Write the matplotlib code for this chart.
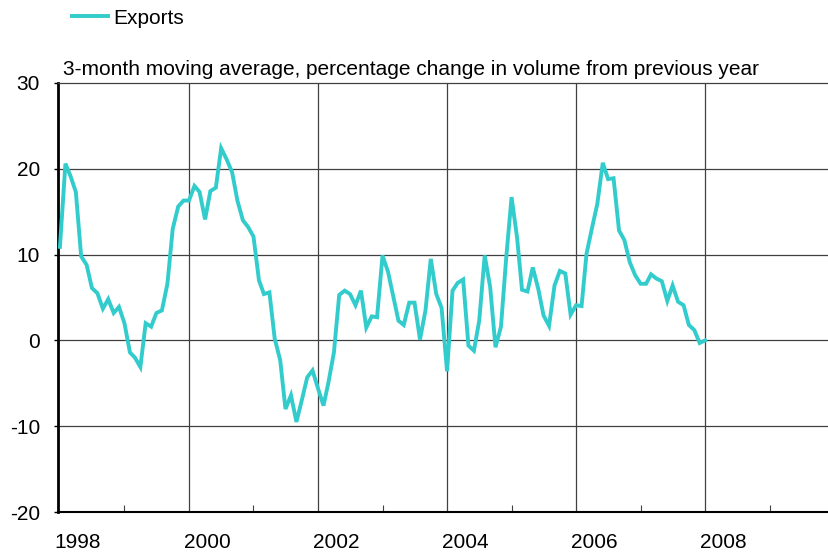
import numpy as np
import pandas as pd
import matplotlib
matplotlib.use("Agg")
import matplotlib.pyplot as plt

# Exports, 3-month moving average, % change in volume y/y, Jan 1998 - Jan 2008
exports = [
    10.9, 20.6, 19.2, 17.3, 9.8, 8.8, 6.1, 5.5, 3.7, 4.8, 3.2, 3.9,        # 1998
    2.0, -1.4, -2.0, -3.1, 2.0, 1.6, 3.2, 3.5, 6.6, 13.0, 15.6, 16.3,      # 1999
    16.3, 18.0, 17.3, 14.1, 17.4, 17.8, 22.4, 21.1, 19.6, 16.3, 14.0, 13.2,  # 2000
    12.1, 7.0, 5.4, 5.6, 0.2, -2.3, -8.0, -6.4, -9.5, -7.0, -4.3, -3.5,    # 2001
    -5.6, -7.6, -4.9, -1.4, 5.3, 5.8, 5.4, 4.1, 5.8, 1.5, 2.8, 2.7,        # 2002
    9.9, 8.0, 5.3, 2.3, 1.8, 4.4, 4.4, 0.1, 3.5, 9.5, 5.4, 3.8,            # 2003
    -3.6, 5.8, 6.7, 7.1, -0.6, -1.2, 2.3, 9.9, 6.2, -0.8, 1.6, 9.7,        # 2004
    16.7, 12.0, 5.9, 5.7, 8.5, 6.0, 2.9, 1.7, 6.4, 8.1, 7.8, 3.0,          # 2005
    4.1, 4.0, 10.1, 13.1, 15.9, 20.7, 18.8, 18.9, 12.8, 11.7, 9.1, 7.6,    # 2006
    6.6, 6.6, 7.7, 7.2, 6.9, 4.6, 6.4, 4.5, 4.1, 1.8, 1.2, -0.3,           # 2007
    0.0,                                                                   # 2008
]
months = pd.date_range("1998-01-01", periods=len(exports), freq="MS")
label_years = [1998, 2000, 2002, 2004, 2006, 2008]
grid_years = [2000, 2002, 2004, 2006, 2008]
odd_years = [1999, 2001, 2003, 2005, 2007, 2009]
y_ticks = [-20, -10, 0, 10, 20, 30]

LINE = "#33CCCC"
GRID = "#404040"
FS = 15

plt.rcParams["font.family"] = ["Liberation Sans", "DejaVu Sans"]
plt.rcParams["axes.unicode_minus"] = False

# decimal-year positions for the monthly observations
xpos = months.year + (months.dayofyear - 1) / 365.0

fig = plt.figure(figsize=(8.29, 5.55), dpi=100)
ax = fig.add_axes([58 / 829, 1 - 512 / 555, 1 - 58 / 829, (512 - 83) / 555])

ax.plot(xpos, exports, color=LINE, lw=2.8, label="Exports", solid_joinstyle="miter", zorder=3)

ax.set_xlim(1997.97, 2009.92)
ax.set_ylim(-20, 30)

# gridlines
for v in y_ticks[1:-1]:
    ax.axhline(v, color=GRID, lw=0.9, zorder=1)
for yr in grid_years:
    ax.axvline(yr, color=GRID, lw=0.9, zorder=1)

ax.set_yticks(y_ticks)
ax.tick_params(axis="y", direction="out", length=3, width=1, pad=10, labelsize=FS)

ax.set_xticks([y + 0.28 for y in label_years], [str(y) for y in label_years])
ax.tick_params(axis="x", which="major", length=0, pad=15, labelsize=FS)
ax.set_xticks(odd_years, minor=True)
ax.tick_params(axis="x", which="minor", direction="in", length=5, width=0.8, color=GRID)

ax.spines["right"].set_visible(False)
ax.spines["top"].set_color(GRID)
ax.spines["top"].set_linewidth(0.9)
ax.spines["bottom"].set_linewidth(1.5)
ax.spines["left"].set_linewidth(2)

ax.text(0.006, 1.01, "3-month moving average, percentage change in volume from previous year",
        transform=ax.transAxes, ha="left", va="bottom", fontsize=FS)

fig.legend(loc="center left", bbox_to_anchor=(72 / 829, 1 - 18 / 555), frameon=False,
           fontsize=FS, handlelength=1.75, handletextpad=0.25, borderpad=0, borderaxespad=0)

fig.savefig("out.png", dpi=100)
